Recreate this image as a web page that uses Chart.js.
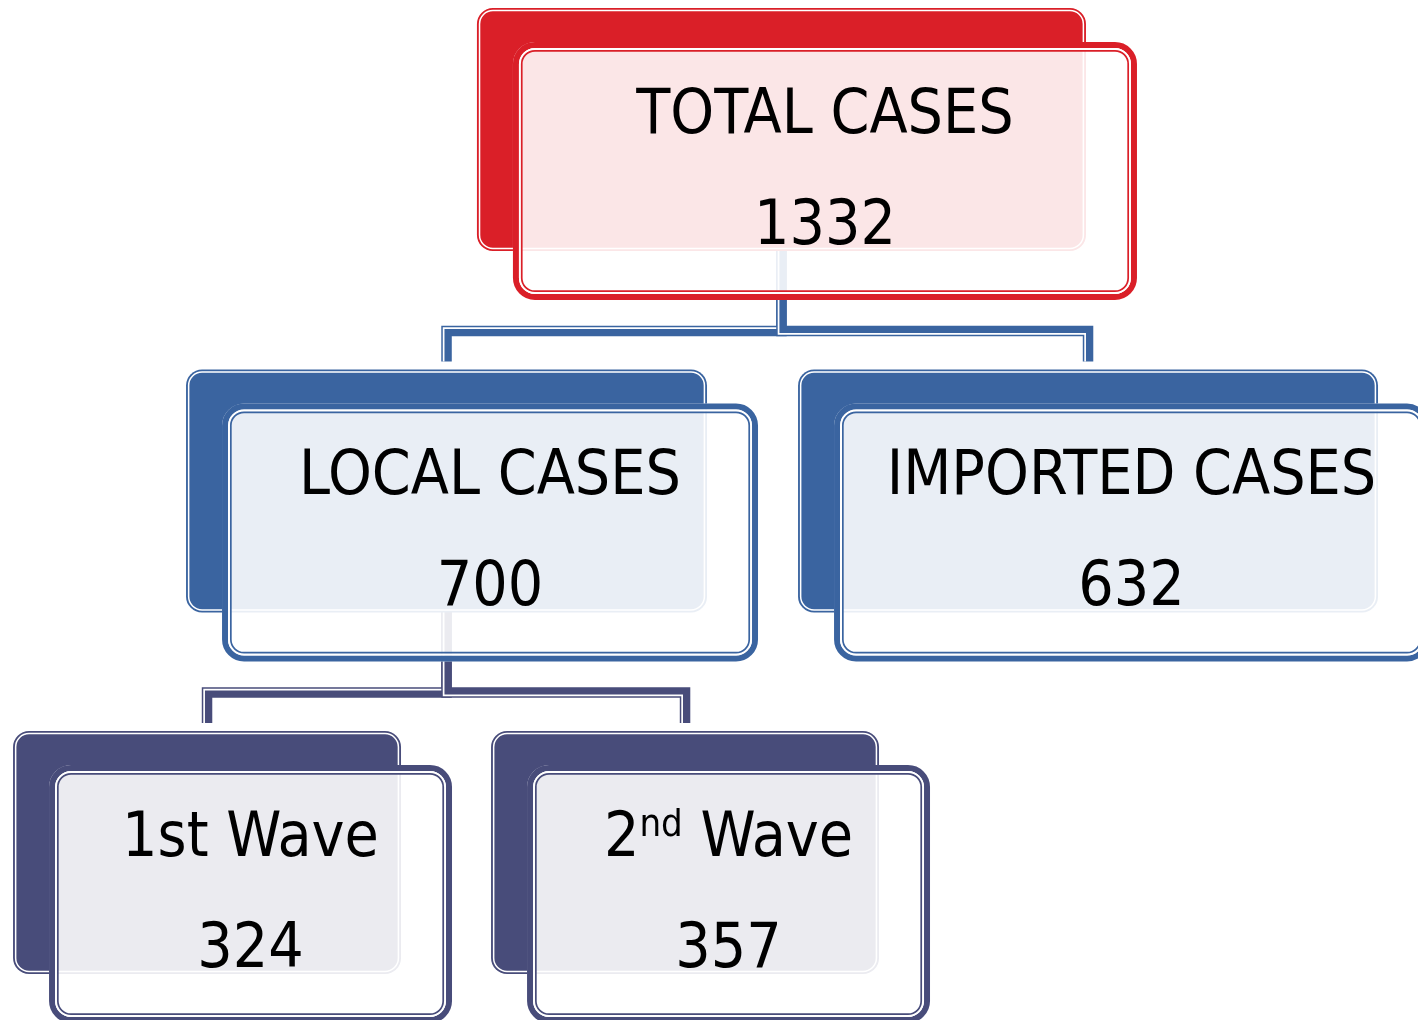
<!DOCTYPE html>
<html><head><meta charset="utf-8">
<script src="https://cdn.jsdelivr.net/npm/chart.js@4.4.1/dist/chart.umd.min.js"></script>
<style>html,body{margin:0;padding:0;background:#fff;overflow:hidden}#wrap{position:relative;width:1418px;height:1020px}</style>
</head><body><div id="wrap"><canvas id="c"></canvas></div>
<script>
// ---- data ----
const nodeLabels = ['TOTAL CASES', 'LOCAL CASES', 'IMPORTED CASES', '1st Wave', '2^{nd} Wave'];
const nodeValues = [1332, 700, 632, 324, 357];
const nodeParents = [null, 0, 0, 1, 1];

// ---- layout (scale units: x in % of width, y in tree levels) ----
const layoutX = [55.11, 31.49, 76.73, 14.60, 48.31];   // centre of back card
const layoutW = [42.95, 36.74, 40.90, 27.36, 27.36];   // width of back card
const levelColors = ['#DA1F28', '#3A64A0', '#484C7A'];

const nodeLevels = nodeParents.map((p, i) => { let l = 0, q = p; while (q !== null) { l++; q = nodeParents[q]; } return l; });

function rr(ctx, x, y, w, h, r) {
  ctx.beginPath();
  ctx.moveTo(x + r, y);
  ctx.lineTo(x + w - r, y); ctx.arcTo(x + w, y, x + w, y + r, r);
  ctx.lineTo(x + w, y + h - r); ctx.arcTo(x + w, y + h, x + w - r, y + h, r);
  ctx.lineTo(x + r, y + h); ctx.arcTo(x, y + h, x, y + h - r, r);
  ctx.lineTo(x, y + r); ctx.arcTo(x, y, x + r, y, r);
  ctx.closePath();
}

function parseLabel(s) {
  const parts = []; const re = /\^\{([^}]*)\}/g; let last = 0, m;
  while ((m = re.exec(s))) { if (m.index > last) parts.push({t: s.slice(last, m.index), sup: false}); parts.push({t: m[1], sup: true}); last = re.lastIndex; }
  if (last < s.length) parts.push({t: s.slice(last), sup: false});
  return parts;
}

const FONT = '"DejaVu Sans Condensed", "DejaVu Sans", sans-serif';

const orgPlugin = {
  id: 'org',
  afterDatasetsDraw(chart) {
    const ctx = chart.ctx;
    const pts = chart.getDatasetMeta(0).data;
    const xs = chart.scales.x;
    const BH = 243, BR = 16, DX = 36, DY = 34, FR = 22;
    const boxes = pts.map((p, i) => {
      const w = xs.getPixelForValue(layoutX[i] + layoutW[i] / 2) - xs.getPixelForValue(layoutX[i] - layoutW[i] / 2);
      return {cx: p.x, top: p.y, w, left: p.x - w / 2, lv: nodeLevels[i]};
    });
    ctx.save();
    // connectors
    nodeParents.forEach((p, i) => {
      if (p === null) return;
      const pb = boxes[p], cb = boxes[i];
      const col = levelColors[cb.lv];
      const barY = cb.top - 38.5;
      const path = [[pb.cx, pb.top + BH - 2], [pb.cx, barY], [cb.cx, barY], [cb.cx, cb.top - 8]];
      ctx.lineJoin = 'miter'; ctx.lineCap = 'butt';
      ctx.strokeStyle = col; ctx.lineWidth = 10.5;
      ctx.beginPath(); path.forEach((q, k) => k ? ctx.lineTo(q[0], q[1]) : ctx.moveTo(q[0], q[1])); ctx.stroke();
      // white separator offset to the right-hand side of travel
      const d = 2.9; const off = [];
      for (let k = 0; k < path.length; k++) {
        let nx = 0, ny = 0;
        const segs = [];
        if (k > 0) segs.push([path[k][0] - path[k - 1][0], path[k][1] - path[k - 1][1]]);
        if (k < path.length - 1) segs.push([path[k + 1][0] - path[k][0], path[k + 1][1] - path[k][1]]);
        const seen = [];
        segs.forEach(s => { const L = Math.hypot(s[0], s[1]) || 1; const n = [-s[1] / L, s[0] / L];
          if (!seen.some(q => Math.abs(q[0] - n[0]) < 1e-6 && Math.abs(q[1] - n[1]) < 1e-6)) { seen.push(n); nx += n[0]; ny += n[1]; } });
        off.push([path[k][0] + nx * d, path[k][1] + ny * d]);
      }
      ctx.strokeStyle = '#ffffff'; ctx.lineWidth = 1.7;
      ctx.beginPath(); off.forEach((q, k) => k ? ctx.lineTo(q[0], q[1]) : ctx.moveTo(q[0], q[1])); ctx.stroke();
    });
    // cards
    boxes.forEach((b, i) => {
      const col = levelColors[b.lv];
      // back card
      rr(ctx, b.left, b.top, b.w, BH, BR); ctx.fillStyle = col; ctx.fill();
      rr(ctx, b.left + 2.6, b.top + 2.6, b.w - 5.2, BH - 5.2, BR - 2.6); ctx.strokeStyle = '#ffffff'; ctx.lineWidth = 1.5; ctx.stroke();
      // front card
      const fx = b.left + DX, fy = b.top + DY, fw = b.w + 15, fh = BH + 15;
      rr(ctx, fx, fy, fw, fh, FR); ctx.fillStyle = 'rgba(255,255,255,0.89)'; ctx.fill();
      rr(ctx, fx + 3, fy + 3, fw - 6, fh - 6, FR - 3); ctx.strokeStyle = col; ctx.lineWidth = 6; ctx.stroke();
      rr(ctx, fx + 7, fy + 7, fw - 14, fh - 14, FR - 7); ctx.strokeStyle = '#ffffff'; ctx.lineWidth = 2; ctx.stroke();
      rr(ctx, fx + 8.8, fy + 8.8, fw - 17.6, fh - 17.6, FR - 8.8); ctx.strokeStyle = col; ctx.lineWidth = 1.7; ctx.stroke();
      // texts
      const tcx = fx + fw / 2;
      ctx.fillStyle = '#000000'; ctx.textBaseline = 'alphabetic'; ctx.textAlign = 'left';
      const parts = parseLabel(nodeLabels[i]);
      const fs = 62, sfs = 38;
      let total = 0;
      parts.forEach(pt => { ctx.font = (pt.sup ? sfs : fs) + 'px ' + FONT; pt.w = ctx.measureText(pt.t).width; total += pt.w; });
      let xx = tcx - total / 2;
      parts.forEach(pt => { ctx.font = (pt.sup ? sfs : fs) + 'px ' + FONT; ctx.fillText(pt.t, xx, fy + 91 - (pt.sup ? 20 : 0)); xx += pt.w; });
      ctx.font = fs + 'px ' + FONT; ctx.textAlign = 'center';
      ctx.fillText(String(nodeValues[i]), tcx, fy + 202);
    });
    ctx.restore();
  }
};

new Chart(document.getElementById('c'), {
  type: 'scatter',
  data: {
    datasets: [{
      data: nodeLabels.map((_, i) => ({x: layoutX[i], y: nodeLevels[i]})),
      pointRadius: 0, pointHoverRadius: 0, showLine: false
    }]
  },
  options: {
    responsive: true, maintainAspectRatio: false, animation: false,
    layout: {padding: 0},
    plugins: {legend: {display: false}, tooltip: {enabled: false}},
    events: [],
    scales: {
      x: {type: 'linear', min: 0, max: 100, display: false},
      y: {type: 'linear', min: -0.0221, max: 2.7994, reverse: true, display: false}
    }
  },
  plugins: [orgPlugin]
});
</script>
</body></html>
